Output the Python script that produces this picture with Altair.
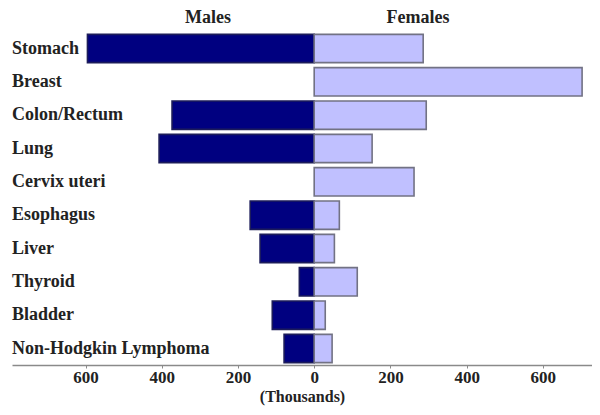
import altair as alt
import pandas as pd

sites = ["Stomach", "Breast", "Colon/Rectum", "Lung", "Cervix uteri",
         "Esophagus", "Liver", "Thyroid", "Bladder", "Non-Hodgkin Lymphoma"]
males = [595, 0, 373, 407, 0, 168, 142, 39, 110, 79]
females = [286, 703, 294, 152, 262, 66, 53, 113, 29, 47]
tick_values = [-600, -400, -200, 0, 200, 400, 600]

rows = []
for s, m, f in zip(sites, males, females):
    if m:
        rows.append({"site": s, "sex": "Males", "value": -m})
    if f:
        rows.append({"site": s, "sex": "Females", "value": f})
df = pd.DataFrame(rows)
lab = pd.DataFrame({"site": sites})
heads = pd.DataFrame({"t": ["Males", "Females"], "px": [196, 406]})

FONT = "Liberation Serif"

yenc = alt.Y("site:N", sort=sites, axis=None,
             scale=alt.Scale(paddingInner=0.15, paddingOuter=0.07))

bars = alt.Chart(df).mark_bar(strokeWidth=1.6).encode(
    x=alt.X("value:Q",
            scale=alt.Scale(domain=[-793, 729], nice=False, zero=False),
            axis=alt.Axis(values=tick_values, labelExpr="abs(datum.value)",
                          title="(Thousands)", grid=False,
                          domainColor="#8a8a8a", domainWidth=1.5,
                          tickColor="#8a8a8a", tickSize=3,
                          labelFont=FONT, labelFontWeight="bold", labelFontSize=17,
                          labelColor="#222222", labelPadding=1,
                          titleFont=FONT, titleFontWeight="bold", titleFontSize=16,
                          titleColor="#222222", titlePadding=3)),
    y=yenc,
    color=alt.Color("sex:N", scale=alt.Scale(domain=["Males", "Females"],
                                              range=["#000080", "#c0c0ff"]), legend=None),
    stroke=alt.Stroke("sex:N", scale=alt.Scale(domain=["Males", "Females"],
                                                range=["#1c1c5a", "#727284"]), legend=None),
)

labels = alt.Chart(lab).mark_text(align="left", baseline="middle", font=FONT,
                                  fontWeight="bold", fontSize=18, color="#222222").encode(
    x=alt.value(0), y=yenc, text="site:N")

titles = alt.Chart(heads).mark_text(align="center", baseline="middle", font=FONT,
                                    fontWeight="bold", fontSize=18, color="#222222").encode(
    x=alt.X("px:Q", scale=None), y=alt.value(-14), text="t:N")

chart = alt.layer(bars, labels, titles).properties(
    width=580, height=333,
    autosize=alt.AutoSizeParams(type="none"),
    padding={"left": 4, "top": 24, "right": 0, "bottom": 42},
).configure(background="white").configure_view(stroke=None)

chart.save("out.html", embed_options={"renderer": "svg", "actions": False})
